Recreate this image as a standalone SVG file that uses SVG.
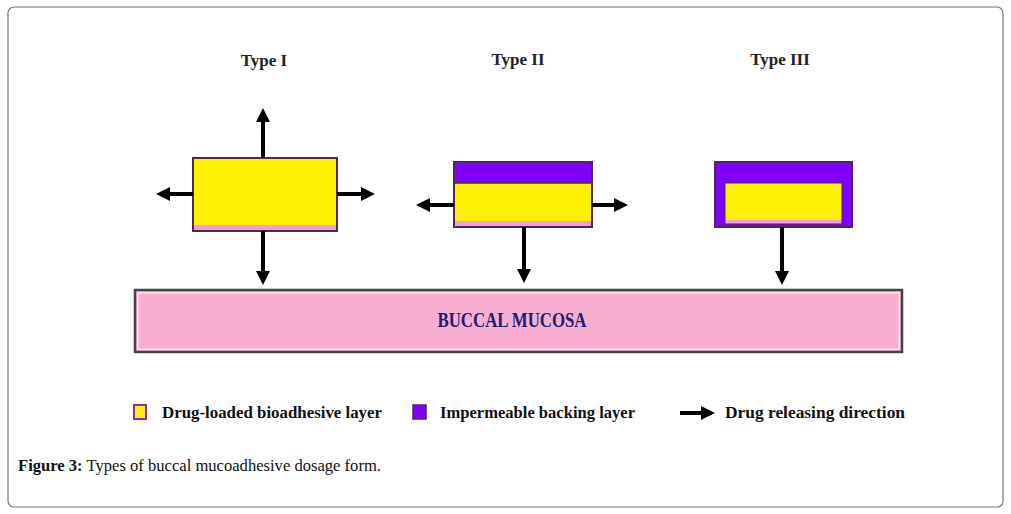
<svg xmlns="http://www.w3.org/2000/svg" width="1011" height="514" viewBox="0 0 1011 514">
<defs>
<marker id="ah" markerUnits="userSpaceOnUse" markerWidth="16" markerHeight="16" refX="1" refY="7" orient="auto">
<path d="M0,0 L14,7 L0,14 z" fill="#000"/>
</marker>
<style>
.title{font-family:"Liberation Serif",serif;font-weight:bold;font-size:17px;fill:#222;text-anchor:middle}
.leg{font-family:"Liberation Serif",serif;font-weight:bold;font-size:17px;fill:#111}
.arr{stroke:#000;stroke-width:4;fill:none;marker-end:url(#ah)}
.yel{fill:#fff000}
.pur{fill:#8000ff}
.pink{fill:#f0a0d8}
.edge{fill:none;stroke:#4a2a55;stroke-width:2}
</style>
</defs>
<rect x="8" y="7" width="995" height="500" rx="6" fill="#fff" stroke="#777" stroke-width="1.2"/>

<g id="type1">
<text class="title" x="264" y="66">Type I</text>
<rect class="yel" x="193" y="158" width="144" height="73"/>
<rect class="pink" x="194" y="225" width="142" height="5"/>
<rect class="edge" x="193" y="158" width="144" height="73"/>
</g>
<g id="type2">
<text class="title" x="518" y="65">Type II</text>
<rect class="pur" x="454" y="162" width="138" height="21"/>
<rect class="yel" x="454" y="183" width="138" height="39"/>
<rect class="pink" x="455" y="221" width="136" height="5"/>
<line x1="454" y1="183" x2="592" y2="183" stroke="#4a2a55" stroke-width="1.5"/>
<rect class="edge" x="454" y="162" width="138" height="65"/>
</g>
<g id="type3">
<text class="title" x="780" y="65">Type III</text>
<rect class="pur" x="715" y="162" width="137" height="65"/>
<rect class="yel" x="725" y="183" width="117" height="38"/>
<rect class="pink" x="725" y="220" width="117" height="4"/>
<rect x="725" y="183" width="117" height="41" fill="none" stroke="#4a2a55" stroke-width="1"/>
<rect class="edge" x="715" y="162" width="137" height="65"/>
</g>
<g id="mucosa">
<rect x="135" y="290" width="767" height="62" fill="#f8aed0" stroke="#444" stroke-width="2.5"/>
<rect x="137.8" y="292.8" width="761.4" height="56.4" fill="none" stroke="#fff" stroke-width="1"/>
<text x="512" y="327" font-family="Liberation Serif,serif" font-weight="bold" font-size="21" fill="#1c1c70" text-anchor="middle" textLength="149" lengthAdjust="spacingAndGlyphs">BUCCAL MUCOSA</text>
</g>
<g id="connectors">
<line class="arr" x1="263" y1="158" x2="263" y2="121"/>
<line class="arr" x1="263" y1="231" x2="263" y2="272"/>
<line class="arr" x1="193" y1="194" x2="169" y2="194"/>
<line class="arr" x1="337" y1="194" x2="362" y2="194"/>
<line class="arr" x1="454" y1="205" x2="429" y2="205"/>
<line class="arr" x1="592" y1="205" x2="615" y2="205"/>
<line class="arr" x1="524" y1="227" x2="524" y2="270"/>
<line class="arr" x1="782" y1="227" x2="782" y2="272"/>
</g>
<g id="legend">
<rect x="134" y="405" width="12" height="14" fill="#fff000" stroke="#7a3a9a" stroke-width="2"/>
<text class="leg" x="162" y="418" textLength="220" lengthAdjust="spacingAndGlyphs">Drug-loaded bioadhesive layer</text>
<rect x="413" y="405" width="13" height="14" fill="#8000ff" stroke="#4a2a55" stroke-width="1.5"/>
<text class="leg" x="440" y="418" textLength="195" lengthAdjust="spacingAndGlyphs">Impermeable backing layer</text>
<line class="arr" x1="680" y1="413" x2="702" y2="413"/>
<text class="leg" x="725" y="418" textLength="180" lengthAdjust="spacingAndGlyphs">Drug releasing direction</text>
</g>
<text x="18" y="471" font-family="Liberation Serif,serif" font-size="17" fill="#111" textLength="363" lengthAdjust="spacingAndGlyphs"><tspan font-weight="bold">Figure 3:</tspan> Types of buccal mucoadhesive dosage form.</text>
</svg>
